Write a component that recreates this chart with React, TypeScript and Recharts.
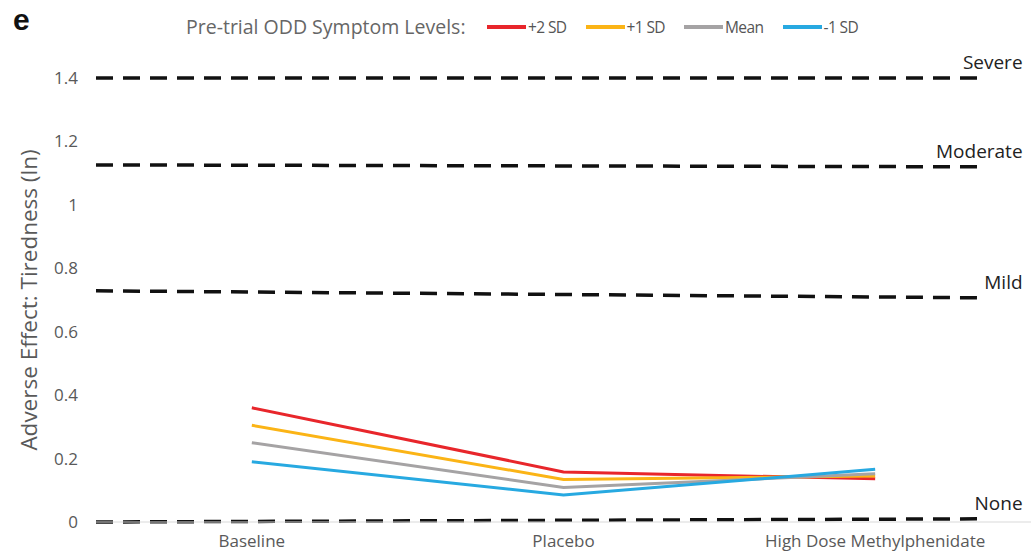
import { CartesianGrid, Label, LabelList, Line, LineChart, XAxis, YAxis } from "recharts";

const categories = ["Baseline", "Placebo", "High Dose Methylphenidate"];
const categoryX = [1, 2, 3];

const plus2Sd = [0.36, 0.158, 0.136];
const plus1Sd = [0.305, 0.134, 0.145];
const meanLevel = [0.25, 0.109, 0.152];
const minus1Sd = [0.19, 0.085, 0.166];

const seriesNames = ["+2 SD", "+1 SD", "Mean", "-1 SD"];
const seriesKeys = ["plus2", "plus1", "mean", "minus1"];
const seriesColors = ["#e8262b", "#fbb416", "#a5a3a4", "#27a9e1"];

const severityNames = ["Severe", "Moderate", "Mild", "None"];
const severityStart = [1.4, 1.126, 0.729, 0];
const severityEnd = [1.4, 1.12, 0.707, 0.01];
const severityX = [0.5, 3.335];

const yTicks = [0, 0.2, 0.4, 0.6, 0.8, 1, 1.2, 1.4];

const data = categoryX.map((x, i) => ({
  x,
  plus2: plus2Sd[i],
  plus1: plus1Sd[i],
  mean: meanLevel[i],
  minus1: minus1Sd[i],
}));

const severityData = severityNames.map((name, i) => [
  { x: severityX[0], y: severityStart[i], name },
  { x: severityX[1], y: severityEnd[i], name },
]);

const font = "'Open Sans', 'Noto Sans', sans-serif";

function SeverityLabel(props: any) {
  const { x, y, index, value } = props;
  if (index !== 1) return null;
  return (
    <text x={x + 43} y={y - 9} textAnchor="end" fill="#222" fontSize={19} fontFamily={font}>
      {value}
    </text>
  );
}

export default function App() {
  return (
    <div style={{ position: "absolute", left: 0, top: 0, width: 1032, height: 555, background: "#fff", fontFamily: font }}>
      <div style={{ position: "absolute", left: 13, top: 3, fontSize: 30, fontWeight: 700, fontFamily: "'Liberation Sans', Arial, sans-serif", color: "#111" }}>
        e
      </div>
      <div style={{ position: "absolute", left: 186, top: 13, display: "flex", alignItems: "center", color: "#666" }}>
        <span style={{ fontSize: 19.5, width: 301 }}>Pre-trial ODD Symptom Levels:</span>
        {seriesNames.map((name, i) => (
          <div key={name} style={{ display: "flex", alignItems: "center", width: 98.5 }}>
            <span style={{ display: "inline-block", width: 39, height: 4, background: seriesColors[i] }} />
            <span style={{ fontSize: 15.5, marginLeft: 2, color: "#555", letterSpacing: -0.6 }}>{name}</span>
          </div>
        ))}
      </div>
      <LineChart width={1032} height={555} data={data} margin={{ top: 78, right: 1, bottom: 3, left: 36 }}>
        <CartesianGrid stroke="none" />
        <XAxis
          dataKey="x"
          type="number"
          domain={[0.5, 3.5]}
          ticks={categoryX}
          tickFormatter={(v) => categories[v - 1]}
          tick={{ fill: "#595959", fontSize: 17, fontFamily: font }}
          tickLine={false}
          axisLine={{ stroke: "#d9d9d9" }}
          tickMargin={7}
          height={30}
          interval={0}
        />
        <YAxis
          type="number"
          domain={[0, 1.4]}
          ticks={yTicks}
          width={60}
          tick={{ fill: "#595959", fontSize: 17, fontFamily: font }}
          tickLine={false}
          axisLine={false}
          tickMargin={12}
        >
          <Label
            content={() => (
              <text x={28} y={300} transform="rotate(-90 28 300)" textAnchor="middle" dominantBaseline="central" fill="#595959" fontSize={22.5} fontFamily={font}>
                Adverse Effect: Tiredness (ln)
              </text>
            )}
          />
        </YAxis>
        {severityData.map((d, i) => (
          <Line
            key={severityNames[i]}
            data={d}
            dataKey="y"
            stroke="#111"
            strokeWidth={3.5}
            strokeDasharray="17 10"
            dot={false}
            activeDot={false}
            isAnimationActive={false}
          >
            <LabelList dataKey="name" content={<SeverityLabel />} />
          </Line>
        ))}
        {seriesKeys.map((key, i) => (
          <Line
            key={key}
            dataKey={key}
            name={seriesNames[i]}
            stroke={seriesColors[i]}
            strokeWidth={3}
            dot={false}
            activeDot={false}
            isAnimationActive={false}
          />
        ))}
      </LineChart>
    </div>
  );
}
